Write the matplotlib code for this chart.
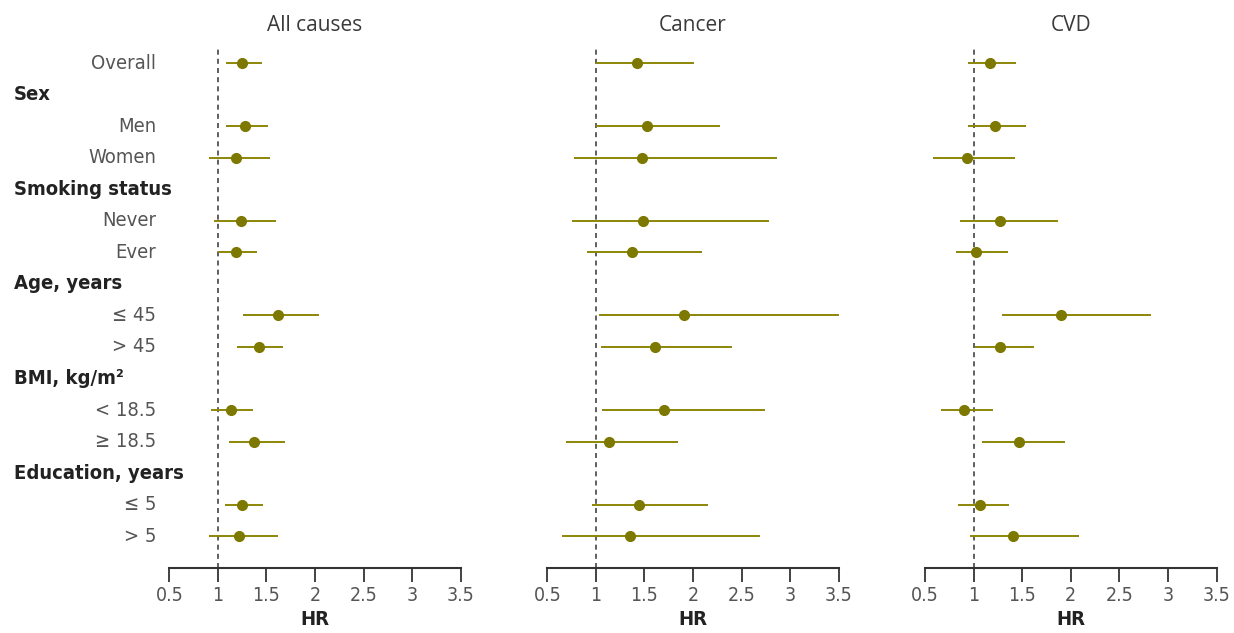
import matplotlib
matplotlib.use("Agg")
import matplotlib.pyplot as plt
from matplotlib import font_manager
from matplotlib.font_manager import FontProperties
import matplotlib.transforms as mtransforms

_p = font_manager.findfont(FontProperties(family="DejaVu Sans", stretch="condensed"))
COND = "condensed" if "Condensed" in _p else "normal"

# ---- data ----
row_labels = ["Overall", "Sex", "Men", "Women", "Smoking status", "Never", "Ever",
              "Age, years", "\u2264 45", "> 45", "BMI, kg/m\u00b2", "< 18.5", "\u2265 18.5",
              "Education, years", "\u2264 5", "> 5"]
is_header = [False, True, False, False, True, False, False,
             True, False, False, True, False, False, True, False, False]

panel_titles = ["All causes", "Cancer", "CVD"]

# per row (None for headers): HR, lower, upper
allcause_hr = [1.25, None, 1.28, 1.19, None, 1.24, 1.19, None, 1.62, 1.42, None, 1.14, 1.37, None, 1.25, 1.22]
allcause_lo = [1.08, None, 1.08, 0.91, None, 0.96, 1.00, None, 1.26, 1.20, None, 0.93, 1.11, None, 1.07, 0.91]
allcause_hi = [1.45, None, 1.52, 1.54, None, 1.60, 1.40, None, 2.04, 1.67, None, 1.36, 1.69, None, 1.46, 1.62]

cancer_hr = [1.42, None, 1.53, 1.47, None, 1.48, 1.37, None, 1.91, 1.61, None, 1.70, 1.14, None, 1.44, 1.35]
cancer_lo = [1.00, None, 1.00, 0.77, None, 0.75, 0.91, None, 1.03, 1.05, None, 1.06, 0.69, None, 0.96, 0.65]
cancer_hi = [2.01, None, 2.28, 2.86, None, 2.78, 2.09, None, 3.50, 2.40, None, 2.74, 1.85, None, 2.15, 2.69]

cvd_hr = [1.17, None, 1.22, 0.93, None, 1.27, 1.02, None, 1.90, 1.27, None, 0.90, 1.47, None, 1.07, 1.41]
cvd_lo = [0.94, None, 0.94, 0.58, None, 0.86, 0.82, None, 1.29, 1.01, None, 0.66, 1.09, None, 0.84, 0.96]
cvd_hi = [1.44, None, 1.54, 1.43, None, 1.87, 1.35, None, 2.83, 1.62, None, 1.20, 1.94, None, 1.36, 2.09]

xticks = [0.5, 1, 1.5, 2, 2.5, 3, 3.5]
xtick_labels = ["0.5", "1", "1.5", "2", "2.5", "3", "3.5"]

series = [(allcause_hr, allcause_lo, allcause_hi),
          (cancer_hr, cancer_lo, cancer_hi),
          (cvd_hr, cvd_lo, cvd_hi)]

POINT = "#7d7800"
LINE = "#8c8708"
TXT = "#3a3a3a"
TICK = "#555555"

W, H = 1234, 633
fig = plt.figure(figsize=(W / 100, H / 100), dpi=100)
lefts = [169.3, 547.3, 925.0]
width = 291.5
bottom_px = 567.7
top_px = 49.0

axes = []
for i, (hr, lo, hi) in enumerate(series):
    ax = fig.add_axes([lefts[i] / W, (H - bottom_px) / H, width / W, (bottom_px - top_px) / H])
    axes.append(ax)
    ax.set_xlim(0.5, 3.5)
    ax.set_ylim(16, -0.45)
    ax.axvline(1, color="#444444", lw=1.2, ls=(0, (3, 2.5)), zorder=1)
    for r in range(len(row_labels)):
        if hr[r] is None:
            continue
        ax.plot([lo[r], hi[r]], [r, r], color=LINE, lw=1.4, solid_capstyle="butt", zorder=2)
        ax.plot([hr[r]], [r], "o", color=POINT, ms=7, zorder=3)
    for s in ["top", "right", "left"]:
        ax.spines[s].set_visible(False)
    ax.spines["bottom"].set_color("#333333")
    ax.spines["bottom"].set_linewidth(1.5)
    ax.set_yticks([])
    ax.set_xticks(xticks)
    ax.set_xticklabels(xtick_labels, family="DejaVu Sans", stretch=COND, fontsize=14, color=TICK)
    ax.tick_params(axis="x", direction="out", length=10, width=1.3, color="#333333", pad=3)
    ax.set_xlabel("HR", family="DejaVu Sans", stretch=COND, fontsize=14.5, fontweight="bold",
                  color="#222222", labelpad=4)
    ax.set_title(panel_titles[i], fontsize=15, color=TXT, pad=13, family="Open Sans")

# row labels on left
ax0 = axes[0]
trans = mtransforms.blended_transform_factory(fig.transFigure, ax0.transData)
for r, (lab, hd) in enumerate(zip(row_labels, is_header)):
    if hd:
        ax0.text(13.5 / W, r, lab, transform=trans, ha="left", va="center",
                 family="DejaVu Sans", stretch=COND, fontsize=14.5, fontweight="bold", color="#222222")
    else:
        ax0.text(156 / W, r, lab, transform=trans, ha="right", va="center",
                 family="DejaVu Sans", stretch=COND, fontsize=14.5, color=TICK)

fig.savefig("out.png", dpi=100)
